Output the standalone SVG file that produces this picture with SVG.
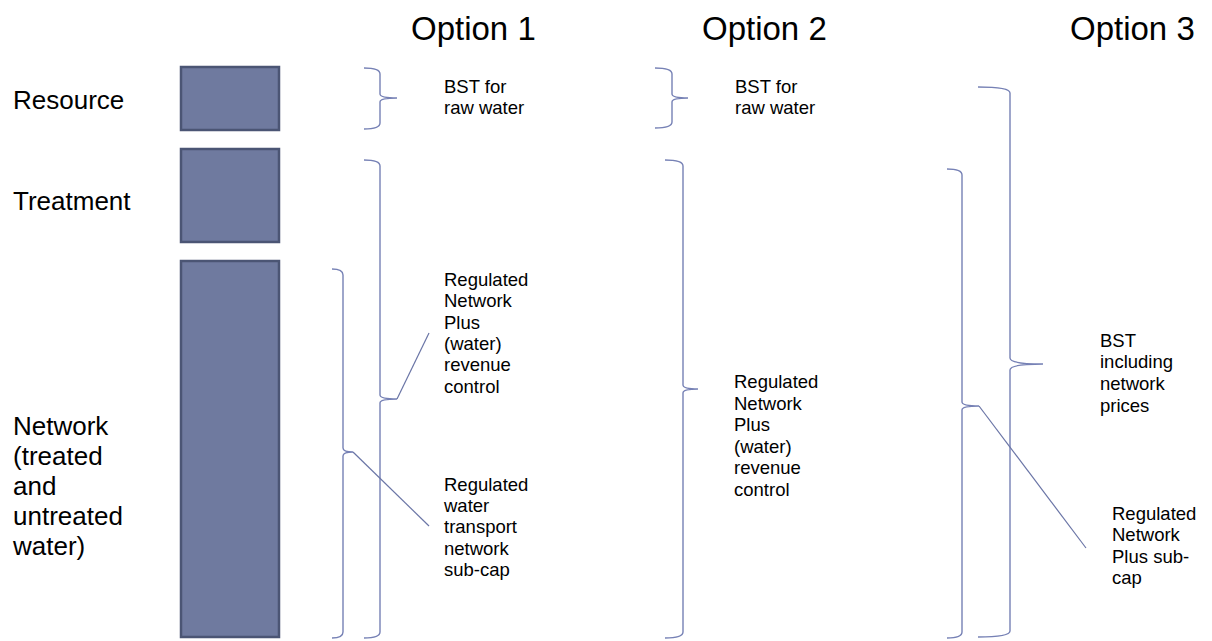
<svg xmlns="http://www.w3.org/2000/svg" width="1212" height="641" viewBox="0 0 1212 641">
<style>
.t{font-family:"Liberation Sans",Arial,sans-serif;fill:#000}
.h{font-size:33px}
.l{font-size:26px}
.s{font-size:18.5px}
.box{fill:#6f7a9f;stroke:#4b5574;stroke-width:2.5}
.br{fill:none;stroke:#7681b5;stroke-width:1.4}
.ld{fill:none;stroke:#6a75a6;stroke-width:1.2}
</style>
<rect width="1212" height="641" fill="#fff"/>
<g id="headers">
<text class="t h" x="411" y="40">Option 1</text>
<text class="t h" x="702" y="40">Option 2</text>
<text class="t h" x="1070" y="40">Option 3</text>
</g>
<g id="resource">
<text class="t l" x="13" y="109">Resource</text>
<rect class="box" x="181" y="67" width="98" height="63"/>
</g>
<g id="treatment">
<text class="t l" x="13" y="210">Treatment</text>
<rect class="box" x="181" y="149" width="98" height="93"/>
</g>
<g id="network">
<text class="t l" x="13" y="435">Network</text>
<text class="t l" x="13" y="465">(treated</text>
<text class="t l" x="13" y="495">and</text>
<text class="t l" x="13" y="525">untreated</text>
<text class="t l" x="13" y="555">water)</text>
<rect class="box" x="181" y="261" width="98" height="376"/>
</g>
<g id="connectors">
<!-- Option 1 -->
<path class="br" d="M364,68 Q380,68 380,74 L380,94 Q380,98 397,98 Q380,98 380,102 L380,123 Q380,129 364,129"/>
<path class="br" d="M364,160 Q380,160 380,166 L380,395 Q380,399 397,399 Q380,399 380,403 L380,632 Q380,638 364,638"/>
<path class="br" d="M332,269 Q343,269 343,275 L343,448 Q343,452 353,452 Q343,452 343,456 L343,632 Q343,638 332,638"/>
<line class="ld" x1="397" y1="399" x2="429" y2="333"/>
<line class="ld" x1="353" y1="452" x2="429" y2="526"/>
<!-- Option 2 -->
<path class="br" d="M655,68 Q672,68 672,74 L672,94 Q672,98 688,98 Q672,98 672,102 L672,122 Q672,128 655,128"/>
<path class="br" d="M665,160 Q683,160 683,166 L683,385 Q683,389 698,389 Q683,389 683,393 L683,632 Q683,638 665,638"/>
<!-- Option 3 -->
<path class="br" d="M978,87 Q1010,87 1010,93 L1010,358 Q1010,364 1043,364 Q1010,364 1010,370 L1010,631 Q1010,637 978,637"/>
<path class="br" d="M947,169 Q962,169 962,175 L962,402 Q962,406 979,406 Q962,406 962,410 L962,632 Q962,638 947,638"/>
<line class="ld" x1="979" y1="406" x2="1086" y2="548"/>
</g>
<g id="labels">
<text class="t s" x="444" y="93">BST for</text>
<text class="t s" x="444" y="114">raw water</text>
<text class="t s" x="735" y="93">BST for</text>
<text class="t s" x="735" y="114">raw water</text>
<text class="t s" x="444" y="286">Regulated</text>
<text class="t s" x="444" y="307">Network</text>
<text class="t s" x="444" y="329">Plus</text>
<text class="t s" x="444" y="350">(water)</text>
<text class="t s" x="444" y="371">revenue</text>
<text class="t s" x="444" y="393">control</text>
<text class="t s" x="444" y="491">Regulated</text>
<text class="t s" x="444" y="512">water</text>
<text class="t s" x="444" y="533">transport</text>
<text class="t s" x="444" y="555">network</text>
<text class="t s" x="444" y="576">sub-cap</text>
<text class="t s" x="734" y="388">Regulated</text>
<text class="t s" x="734" y="410">Network</text>
<text class="t s" x="734" y="431">Plus</text>
<text class="t s" x="734" y="453">(water)</text>
<text class="t s" x="734" y="474">revenue</text>
<text class="t s" x="734" y="496">control</text>
<text class="t s" x="1100" y="347">BST</text>
<text class="t s" x="1100" y="368">including</text>
<text class="t s" x="1100" y="390">network</text>
<text class="t s" x="1100" y="412">prices</text>
<text class="t s" x="1112" y="520">Regulated</text>
<text class="t s" x="1112" y="541">Network</text>
<text class="t s" x="1112" y="563">Plus sub-</text>
<text class="t s" x="1112" y="584">cap</text>
</g>
</svg>
